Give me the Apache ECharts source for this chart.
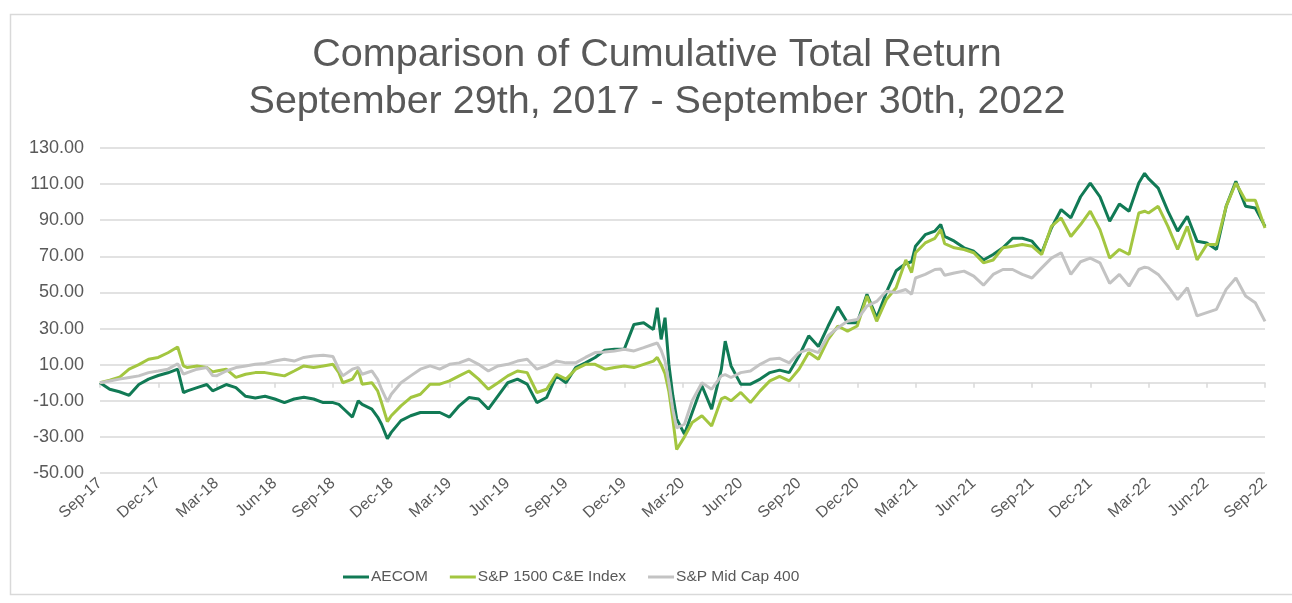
<!DOCTYPE html>
<html>
<head>
<meta charset="utf-8">
<script src="https://cdn.jsdelivr.net/npm/echarts@6/dist/echarts.min.js"></script>
<style>
html,body{margin:0;padding:0;background:#fff;}
#chart{width:1292px;height:603px;}
</style>
</head>
<body>
<div id="chart"></div>
<script>
// Months elapsed since Sep-29-2017
const months = [0,0.5,1,1.5,2,2.5,3,3.5,4,4.3,4.5,5,5.5,5.8,6,6.5,7,7.5,8,8.5,9,9.5,10,10.5,11,11.5,12,12.3,12.5,13,13.3,13.5,14,14.3,14.5,14.8,15,15.5,16,16.5,17,17.5,18,18.5,19,19.5,20,20.5,21,21.5,22,22.5,23,23.5,24,24.5,25,25.5,26,26.5,27,27.5,28,28.5,28.7,28.9,29.1,29.3,29.5,29.7,30.1,30.5,31,31.5,32,32.2,32.5,33,33.5,34,34.5,35,35.5,36,36.5,37,37.5,38,38.5,39,39.5,40,40.5,41,41.5,41.8,42,42.5,43,43.3,43.5,44,44.5,45,45.5,46,46.5,47,47.5,48,48.5,49,49.5,50,50.5,51,51.5,52,52.5,53,53.5,53.8,54,54.5,55,55.5,56,56.5,57,57.5,58,58.5,59,59.5,60];

const aecom = [0,-3.6,-5,-7,-1,2,4,5.5,7.5,-5.5,-4.5,-2.7,-1,-4.5,-3.6,-1,-2.7,-7.5,-8.5,-7.5,-9,-11,-9,-8,-9,-11,-11,-12,-14,-19,-10,-12,-14.6,-19,-23,-31,-27.5,-21,-18.3,-16.5,-16.5,-16.5,-19,-12.8,-8.2,-9,-14.6,-7.3,0,2,-0.8,-11,-8.2,3.8,0,8.4,11,14,18,18.5,18.5,32.3,33.2,29.5,41.5,24,36,10,-7,-20,-28.5,-16.5,-1.7,-14.6,7.5,23,9.3,-0.8,-0.8,2,5.6,7,5.6,14.8,26,20,31.4,42,33.2,33.2,49,36,50,62,66,67,75.6,82,84,87.6,81,78.4,74.7,72.8,68,71,74.7,80,80,78.4,72,85.7,95.9,91.3,103,110.6,103,89.4,99,95,110.6,116,113,107.8,95,84,92.2,78.4,77.4,73.8,97.7,111.5,97.7,96.8,86.6];

const sp1500 = [0,1.4,3,7.5,10,13,14,16.6,19.8,9.3,8.4,9.3,8.4,6,6.5,7.5,3,4.7,5.6,5.6,4.7,3.8,6.5,9.3,8.4,9.3,10.2,5.6,0,2,7,-0.8,0,-4.5,-11,-21.5,-18.3,-12.8,-8.2,-6.4,-0.8,-0.8,1,3.8,6.5,2,-3.6,0,3.8,6.5,5.6,-5.4,-3.6,4.7,2,7.5,10.2,10.2,7.5,8.4,9.3,8.4,10.2,12,14,10,5,-5,-20,-37,-30,-22,-18.3,-24,-9,-8,-10,-5.4,-11,-4.5,1,3.5,1,7.5,16.7,13,24,31.4,28.6,31.4,48,34,46,52.6,68,61,72,77.4,80,84.8,77,74.7,73.8,72,66.4,68,74.7,75.6,76.5,75.6,71,86.6,91.3,81,87.6,95,84.8,69,73.8,71,94,95,94,97.7,86.6,73.8,86.6,68,76.5,76.5,97.7,110.6,101,101,85.7];

const midcap = [0,1,2,2.9,3.8,5.6,6.5,7.5,10.5,4.7,5.6,7.5,8.4,4,3.8,6.5,8.4,9.3,10.2,10.7,12,13,12,14,14.8,15.2,14.5,7.5,3.8,7.5,8.5,4.7,6.5,1.9,-3.6,-10.5,-6.4,0,3.8,7.5,9.3,7.5,10.2,11,13,10.2,6.5,9.3,10.2,12,13,7.5,9.3,12,11,11,14,16.7,17,17.6,18.5,17.6,19.4,21.3,22,18,12,0,-14.6,-25,-23,-10,0,-3.6,3.8,4.5,2.9,5.6,6.5,10.2,13,13.5,11,16.7,18.5,16.7,26,30.4,34,35,42.4,45,50.7,50,51.6,49,58,60,62.7,63,59.5,60.8,61.8,59,54,60,62.7,62.7,60,58,63.6,69,72,60,67,69,66.4,55,60,53.5,62.7,64,63.6,60,53.5,46,52.6,37,38.8,40.6,51.7,58,48,44.3,34];

const tickLabels = ['Sep-17','Dec-17','Mar-18','Jun-18','Sep-18','Dec-18','Mar-19','Jun-19','Sep-19','Dec-19','Mar-20','Jun-20','Sep-20','Dec-20','Mar-21','Jun-21','Sep-21','Dec-21','Mar-22','Jun-22','Sep-22'];

const seriesNames = ['AECOM','S&P 1500 C&E Index','S&P Mid Cap 400'];
const colors = ['#117a55','#a3c640','#c3c3c3'];

const pair = arr => months.map((m, i) => [m, arr[i]]);

const FONT = "'Liberation Sans', Arial, sans-serif";
const TXT = '#595959';

const chart = echarts.init(document.getElementById('chart'), null, {renderer: 'canvas'});
chart.setOption({
  animation: false,
  backgroundColor: '#ffffff',
  color: colors,
  textStyle: {fontFamily: FONT},
  graphic: [{
    type: 'rect', left: 8, top: 12, z: -10,
    shape: {x: 0, y: 0, width: 1300, height: 580},
    style: {fill: 'none', stroke: '#d9d9d9', lineWidth: 1.5}
  }],
  title: {
    text: 'Comparison of Cumulative Total Return\nSeptember 29th, 2017 - September 30th, 2022',
    left: 652, top: 27, textAlign: 'center',
    textStyle: {fontFamily: FONT, fontSize: 39.5, fontWeight: 'normal', color: TXT, lineHeight: 47}
  },
  legend: {
    left: 343, top: 569, padding: 0,
    icon: 'rect', itemWidth: 26, itemHeight: 3, itemGap: 22,
    textStyle: {fontFamily: FONT, fontSize: 15.5, color: TXT, padding: [0,0,0,-3]},
    data: seriesNames
  },
  grid: {left: 100, right: 27, top: 148, bottom: 130, containLabel: false},
  xAxis: [{
    type: 'value', min: 0, max: 60, interval: 3, position: 'bottom',
    axisLine: {show: false, onZero: false},
    axisTick: {show: false},
    splitLine: {show: false},
    axisLabel: {
      rotate: 42, margin: 8, fontSize: 16, color: TXT, fontFamily: FONT,
      formatter: v => tickLabels[Math.round(v / 3)]
    }
  }, {
    type: 'value', min: 0, max: 60, interval: 3, position: 'top',
    axisLine: {show: true, onZero: true, lineStyle: {color: '#d9d9d9', width: 1.5}},
    axisTick: {show: true, inside: true, length: 5, lineStyle: {color: '#d9d9d9', width: 1.5}},
    axisLabel: {show: false},
    splitLine: {show: false}
  }],
  yAxis: {
    type: 'value', min: -50, max: 130, interval: 20,
    axisLine: {show: false}, axisTick: {show: false},
    splitLine: {lineStyle: {color: '#d9d9d9', width: 1.5}},
    axisLabel: {fontSize: 18, color: TXT, margin: 16, fontFamily: FONT, formatter: v => v.toFixed(2)}
  },
  series: [aecom, sp1500, midcap].map((arr, i) => ({
    name: seriesNames[i], type: 'line', xAxisIndex: 0,
    data: pair(arr), symbol: 'none', smooth: false,
    lineStyle: {width: 3, color: colors[i]},
    itemStyle: {color: colors[i]}
  }))
});
</script>
</body>
</html>
